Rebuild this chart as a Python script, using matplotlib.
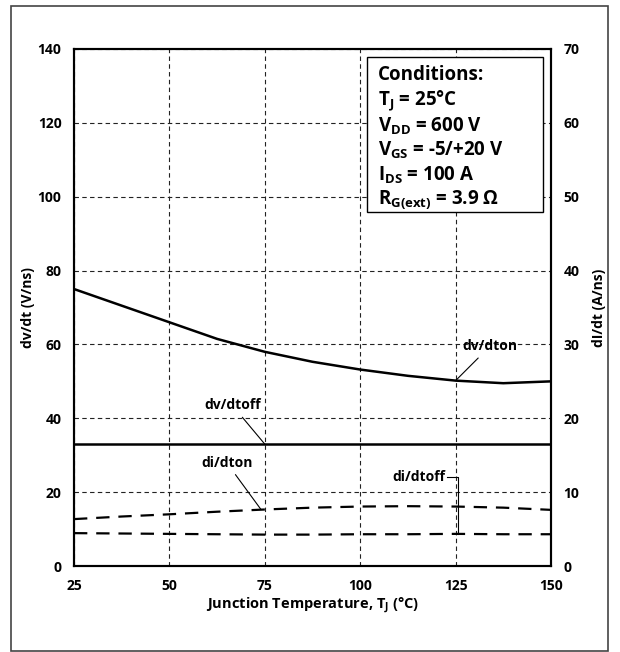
import numpy as np
import matplotlib.pyplot as plt
from matplotlib.patches import Rectangle

plt.rcParams['font.family'] = ['Open Sans', 'DejaVu Sans']
plt.rcParams['font.weight'] = 'bold'
plt.rcParams['mathtext.fontset'] = 'custom'
plt.rcParams['mathtext.bf'] = 'Open Sans:bold'
plt.rcParams['mathtext.rm'] = 'Open Sans:bold'
plt.rcParams['mathtext.default'] = 'bf'

# switching speed vs junction temperature
temp = [25, 37.5, 50, 62.5, 75, 87.5, 100, 112.5, 125, 137.5, 150]
dvdt_on = [75, 70.5, 66, 61.5, 58, 55.3, 53.2, 51.5, 50.2, 49.5, 50]
dvdt_off = [33, 33, 33, 33, 33, 33, 33, 33, 33, 33, 33]
didt_on = [6.35, 6.7, 7.0, 7.35, 7.65, 7.9, 8.05, 8.1, 8.05, 7.9, 7.6]
didt_off = [4.45, 4.4, 4.35, 4.3, 4.25, 4.25, 4.3, 4.3, 4.35, 4.3, 4.3]

xticks = [25, 50, 75, 100, 125, 150]
yticks_left = [0, 20, 40, 60, 80, 100, 120, 140]
yticks_right = [0, 10, 20, 30, 40, 50, 60, 70]

fig = plt.figure(figsize=(6.2, 6.52), dpi=100)
ax = fig.add_axes([74/620, 1-566/652, 477/620, 517/652])
ax2 = ax.twinx()

ax.set_xlim(25, 150)
ax.set_ylim(0, 140)
ax2.set_ylim(0, 70)
ax.set_xticks(xticks)
ax.set_yticks(yticks_left)
ax2.set_yticks(yticks_right)
for a in (ax, ax2):
    a.tick_params(length=0, labelsize=10, pad=9)
    for s in a.spines.values():
        s.set_linewidth(1.5)

ax.grid(True, color='#222222', linestyle=(0, (4, 3)), linewidth=0.8)
ax.set_axisbelow(True)

ax.plot(temp, dvdt_on, color='black', lw=1.8)
ax.plot(temp, dvdt_off, color='black', lw=1.8)
ax2.plot(temp, didt_on, color='black', lw=1.6, linestyle=(0, (6, 4)))
ax2.plot(temp, didt_off, color='black', lw=1.6, linestyle=(0, (6, 4)))

ax.set_xlabel('Junction Temperature, T$_\\mathbf{J}$ (°C)', fontsize=10.5, fontweight='bold', labelpad=2)
ax.set_ylabel('dv/dt (V/ns)', fontsize=10, fontweight='bold', labelpad=2)
ax2.set_ylabel('dI/dt (A/ns)', fontsize=10, fontweight='bold', labelpad=9)

# curve labels with leader lines
ax.annotate('dv/dton', xy=(125, dvdt_on[8]), xytext=(134, 59.5), ha='center', va='center',
            fontsize=10, arrowprops=dict(arrowstyle='-', color='black', lw=0.8, shrinkA=2, shrinkB=0))
ax.annotate('dv/dtoff', xy=(75, dvdt_off[4]), xytext=(66.5, 43.5), ha='center', va='center',
            fontsize=10, arrowprops=dict(arrowstyle='-', color='black', lw=0.8, shrinkA=2, shrinkB=0))
ax2.annotate('di/dton', xy=(74, didt_on[4]), xytext=(65, 14), ha='center', va='center',
             fontsize=10, arrowprops=dict(arrowstyle='-', color='black', lw=0.8, shrinkA=2, shrinkB=0))
ax2.text(122.3, 12, 'di/dtoff', ha='right', va='center', fontsize=10)
ax2.plot([122.8, 125.5, 125.5], [12, 12, didt_off[8]], color='black', lw=0.8)

# test conditions box
ax.add_patch(Rectangle((0.614, 0.685), 0.369, 0.300, transform=ax.transAxes,
                       facecolor='white', edgecolor='black', lw=1.0, zorder=4))
cond = ('Conditions:\n'
        'T$_\\mathbf{J}$ = 25°C\n'
        'V$_\\mathbf{DD}$ = 600 V\n'
        'V$_\\mathbf{GS}$ = -5/+20 V\n'
        'I$_\\mathbf{DS}$ = 100 A\n'
        'R$_\\mathbf{G(ext)}$ = 3.9 Ω')
ax.text(0.637, 0.969, cond, transform=ax.transAxes, ha='left', va='top', fontsize=13.5,
        linespacing=1.2, zorder=5)

fig.patches.append(Rectangle((11/620, 1/652), 597/620, 645/652, transform=fig.transFigure,
                             fill=False, edgecolor='#444444', lw=1.2))

fig.savefig('out.png', dpi=100)
